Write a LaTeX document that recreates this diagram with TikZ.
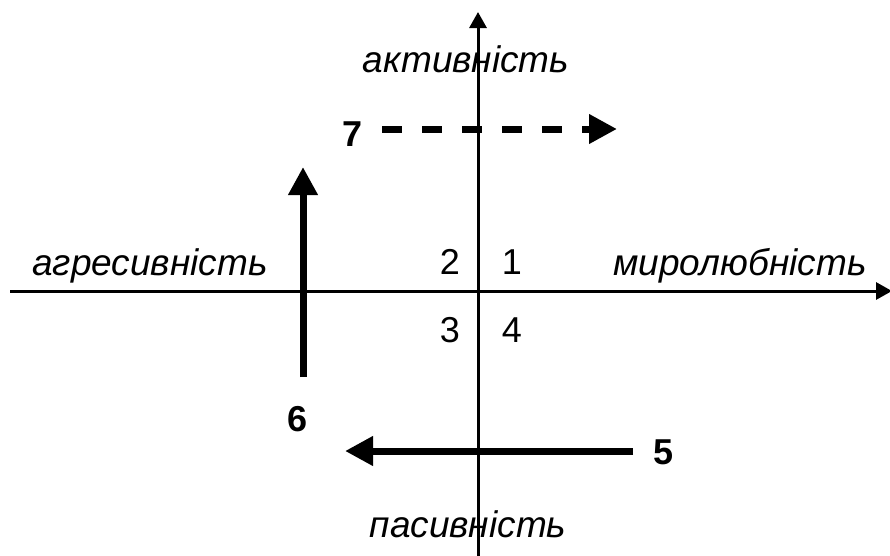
\documentclass[tikz,border=0pt]{standalone}
\usepackage{fontspec}
\setmainfont{Liberation Sans}
\usetikzlibrary{arrows.meta}
\begin{document}
\begin{tikzpicture}[x=1pt,y=-1pt,
  axis/.style={line width=3pt},
  bigarrow/.style={line width=7pt,-{Triangle[length=28pt,width=28pt]}},
  lbl/.style={font=\fontsize{37}{42}\selectfont\itshape,inner sep=0pt,anchor=base},
  num/.style={font=\fontsize{36}{40}\selectfont,inner sep=0pt},
  bnum/.style={font=\fontsize{36}{40}\selectfont\bfseries,inner sep=0pt}]
\useasboundingbox (0,0) rectangle (890,555);
\clip (0,0) rectangle (890,555);
\fill[white] (0,0) rectangle (890,555);
% axes
\coordinate (hl) at (10,291);
\coordinate (hr) at (892,291);
\coordinate (vb) at (478,560);
\coordinate (vt) at (478,12);
\draw[axis,-{Triangle[length=16pt,width=17pt]}] (hl) -- (hr);
\draw[axis,-{Triangle[length=16pt,width=17pt]}] (vb) -- (vt);
% axis labels
\node[lbl] (akt) at (466,72) {активність};
\node[lbl] (pas) at (468,537) {пасивність};
\node[lbl] (agr) at (150,275) {агресивність};
\node[lbl] (myr) at (740,275) {миролюбність};
% quadrant numbers
\node[num] (q2) at (450,262) {2};
\node[num] (q1) at (512,262) {1};
\node[num] (q3) at (450,330) {3};
\node[num] (q4) at (512,330) {4};
% arrows
\node[bnum] (n7) at (353,134) {7};
\coordinate (a7s) at (382,129);
\coordinate (a7e) at (617,129);
\draw[bigarrow,dash pattern=on 20pt off 20pt] (a7s) -- (a7e);
\node[bnum] (n6) at (298,419) {6};
\coordinate (a6s) at (303,377);
\coordinate (a6e) at (303,167);
\draw[bigarrow] (a6s) -- (a6e);
\node[bnum] (n5) at (663,452) {5};
\coordinate (a5s) at (633,451);
\coordinate (a5e) at (345,451);
\draw[bigarrow] (a5s) -- (a5e);
\end{tikzpicture}
\end{document}
